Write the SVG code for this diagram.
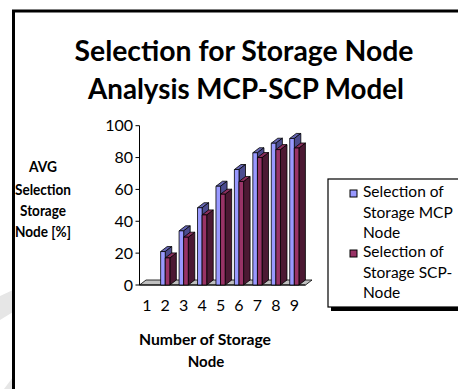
<svg xmlns="http://www.w3.org/2000/svg" width="458" height="389" viewBox="0 0 458 389">
  <style>
    .ttl { font-family: Lato, "Liberation Sans", sans-serif; font-weight: bold; font-size: 29px; fill: #000; text-anchor: middle; }
    .axt { font-family: Lato, "Liberation Sans", sans-serif; font-weight: bold; font-size: 15px; fill: #000; text-anchor: middle; }
    .tick { font-family: Lato, "Liberation Sans", sans-serif; font-size: 16px; fill: #000; }
    .leg { font-family: Lato, "Liberation Sans", sans-serif; font-size: 15.5px; fill: #000; }
    .edge { stroke: #000; stroke-width: 0.8; stroke-linejoin: round; }
    .bf { fill: #9999FF; }
    .bt { fill: #6666B3; }
    .bs { fill: #4C4C8F; }
    .mf { fill: #993366; }
    .mt { fill: #8A2E5C; }
    .ms { fill: #4C1933; }
  </style>

  <rect width="458" height="389" fill="#fff"/>

  <!-- faint background marks at the left margin -->
  <polygon points="0,296 13,290 13,312 0,320" fill="#e6e6e6"/>
  <polygon points="13,377 13,389 4,389" fill="#e6e6e6"/>

  <!-- chart frame -->
  <rect x="13.5" y="11" width="470" height="400" fill="#fff" stroke="#000" stroke-width="3"/>

  <g id="title">
    <text class="ttl" x="244" y="61" textLength="339" lengthAdjust="spacingAndGlyphs">Selection for Storage Node</text>
    <text class="ttl" x="246" y="99" textLength="316" lengthAdjust="spacingAndGlyphs">Analysis MCP-SCP Model</text>
  </g>

  <g id="y-axis-title">
    <text class="axt" x="43" y="172" textLength="28" lengthAdjust="spacingAndGlyphs">AVG</text>
    <text class="axt" x="43" y="194.5" textLength="56" lengthAdjust="spacingAndGlyphs">Selection</text>
    <text class="axt" x="43" y="216" textLength="46" lengthAdjust="spacingAndGlyphs">Storage</text>
    <text class="axt" x="43" y="237" textLength="56" lengthAdjust="spacingAndGlyphs">Node [%]</text>
  </g>

  <g id="floor">
    <polygon points="139.5,285 305.5,285 312,280 146,280" fill="#C0C0C0" class="edge"/>
  </g>

  <g id="y-axis">
    <line x1="139.5" y1="125.7" x2="139.5" y2="285" stroke="#000" stroke-width="1"/>
    <path d="M135.5 125.7H139.5M135.5 157.56H139.5M135.5 189.42H139.5M135.5 221.28H139.5M135.5 253.14H139.5M135.5 285H139.5" stroke="#000" stroke-width="1"/>
    <g class="tick" text-anchor="end">
      <text x="133" y="131.2">100</text>
      <text x="133" y="163.1">80</text>
      <text x="133" y="194.9">60</text>
      <text x="133" y="226.8">40</text>
      <text x="133" y="258.6">20</text>
      <text x="133" y="290.5">0</text>
    </g>
  </g>

  <g id="connectors">
    <line x1="139.5" y1="285" x2="305.5" y2="285" stroke="#000" stroke-width="1"/>
  </g>

  <g id="bars">
    <g id="cat2">
      <polygon class="bt edge" points="160.64,251.55 165.24,251.55 171.74,246.55 167.14,246.55"/>
      <polygon class="bs edge" points="165.24,251.55 165.24,285 171.74,280 171.74,246.55"/>
      <rect class="bf edge" x="160.64" y="251.55" width="4.6" height="33.45"/>
      <polygon class="ms edge" points="169.84,257.92 169.84,285 176.34,280 176.34,252.92"/>
      <polygon class="mt edge" points="165.24,257.92 169.84,257.92 176.34,252.92 171.74,252.92"/>
      <rect class="mf edge" x="165.24" y="257.92" width="4.6" height="27.08"/>
    </g>
    <g id="cat3">
      <polygon class="bt edge" points="179.08,230.84 183.68,230.84 190.18,225.84 185.58,225.84"/>
      <polygon class="bs edge" points="183.68,230.84 183.68,285 190.18,280 190.18,225.84"/>
      <rect class="bf edge" x="179.08" y="230.84" width="4.6" height="54.16"/>
      <polygon class="ms edge" points="188.28,237.21 188.28,285 194.78,280 194.78,232.21"/>
      <polygon class="mt edge" points="183.68,237.21 188.28,237.21 194.78,232.21 190.18,232.21"/>
      <rect class="mf edge" x="183.68" y="237.21" width="4.6" height="47.79"/>
    </g>
    <g id="cat4">
      <polygon class="bt edge" points="197.52,207.74 202.12,207.74 208.62,202.74 204.02,202.74"/>
      <polygon class="bs edge" points="202.12,207.74 202.12,285 208.62,280 208.62,202.74"/>
      <rect class="bf edge" x="197.52" y="207.74" width="4.6" height="77.26"/>
      <polygon class="ms edge" points="206.72,214.91 206.72,285 213.22,280 213.22,209.91"/>
      <polygon class="mt edge" points="202.12,214.91 206.72,214.91 213.22,209.91 208.62,209.91"/>
      <rect class="mf edge" x="202.12" y="214.91" width="4.6" height="70.09"/>
    </g>
    <g id="cat5">
      <polygon class="bt edge" points="215.96,186.23 220.56,186.23 227.06,181.23 222.46,181.23"/>
      <polygon class="bs edge" points="220.56,186.23 220.56,285 227.06,280 227.06,181.23"/>
      <rect class="bf edge" x="215.96" y="186.23" width="4.6" height="98.77"/>
      <polygon class="ms edge" points="225.16,194.2 225.16,285 231.66,280 231.66,189.2"/>
      <polygon class="mt edge" points="220.56,194.2 225.16,194.2 231.66,189.2 227.06,189.2"/>
      <rect class="mf edge" x="220.56" y="194.2" width="4.6" height="90.8"/>
    </g>
    <g id="cat6">
      <polygon class="bt edge" points="234.4,169.51 239,169.51 245.5,164.51 240.9,164.51"/>
      <polygon class="bs edge" points="239,169.51 239,285 245.5,280 245.5,164.51"/>
      <rect class="bf edge" x="234.4" y="169.51" width="4.6" height="115.49"/>
      <polygon class="ms edge" points="243.6,181.46 243.6,285 250.1,280 250.1,176.46"/>
      <polygon class="mt edge" points="239,181.46 243.6,181.46 250.1,176.46 245.5,176.46"/>
      <rect class="mf edge" x="239" y="181.46" width="4.6" height="103.54"/>
    </g>
    <g id="cat7">
      <polygon class="bt edge" points="252.84,152.78 257.44,152.78 263.94,147.78 259.34,147.78"/>
      <polygon class="bs edge" points="257.44,152.78 257.44,285 263.94,280 263.94,147.78"/>
      <rect class="bf edge" x="252.84" y="152.78" width="4.6" height="132.22"/>
      <polygon class="ms edge" points="262.04,157.56 262.04,285 268.54,280 268.54,152.56"/>
      <polygon class="mt edge" points="257.44,157.56 262.04,157.56 268.54,152.56 263.94,152.56"/>
      <rect class="mf edge" x="257.44" y="157.56" width="4.6" height="127.44"/>
    </g>
    <g id="cat8">
      <polygon class="bt edge" points="271.28,143.22 275.88,143.22 282.38,138.22 277.78,138.22"/>
      <polygon class="bs edge" points="275.88,143.22 275.88,285 282.38,280 282.38,138.22"/>
      <rect class="bf edge" x="271.28" y="143.22" width="4.6" height="141.78"/>
      <polygon class="ms edge" points="280.48,149.6 280.48,285 286.98,280 286.98,144.6"/>
      <polygon class="mt edge" points="275.88,149.6 280.48,149.6 286.98,144.6 282.38,144.6"/>
      <rect class="mf edge" x="275.88" y="149.6" width="4.6" height="135.4"/>
    </g>
    <g id="cat9">
      <polygon class="bt edge" points="289.72,138.44 294.32,138.44 300.82,133.44 296.22,133.44"/>
      <polygon class="bs edge" points="294.32,138.44 294.32,285 300.82,280 300.82,133.44"/>
      <rect class="bf edge" x="289.72" y="138.44" width="4.6" height="146.56"/>
      <polygon class="ms edge" points="298.92,148 298.92,285 305.42,280 305.42,143"/>
      <polygon class="mt edge" points="294.32,148 298.92,148 305.42,143 300.82,143"/>
      <rect class="mf edge" x="294.32" y="148" width="4.6" height="137"/>
    </g>
  </g>

  <g id="x-axis">
    <g class="tick" text-anchor="middle">
      <text x="146.8" y="311">1</text>
      <text x="165.24" y="311">2</text>
      <text x="183.68" y="311">3</text>
      <text x="202.12" y="311">4</text>
      <text x="220.56" y="311">5</text>
      <text x="239" y="311">6</text>
      <text x="257.44" y="311">7</text>
      <text x="275.88" y="311">8</text>
      <text x="294.32" y="311">9</text>
    </g>
  </g>

  <g id="x-axis-title">
    <text class="axt" x="205" y="345" font-size="16" textLength="132" lengthAdjust="spacingAndGlyphs">Number of Storage</text>
    <text class="axt" x="206" y="367" font-size="16">Node</text>
  </g>

  <g id="legend">
    <rect x="331" y="182" width="140" height="129" fill="#000"/>
    <rect x="328" y="179" width="140" height="128" fill="#fff" stroke="#000" stroke-width="1.2"/>
    <rect x="350" y="190" width="7" height="7" fill="#9999FF" stroke="#000" stroke-width="1"/>
    <text class="leg" x="363" y="197">Selection of</text>
    <text class="leg" x="363" y="217.5">Storage MCP</text>
    <text class="leg" x="363" y="238">Node</text>
    <rect x="350" y="250" width="7" height="7" fill="#993366" stroke="#000" stroke-width="1"/>
    <text class="leg" x="363" y="257">Selection of</text>
    <text class="leg" x="363" y="277.5">Storage SCP-</text>
    <text class="leg" x="363" y="298">Node</text>
  </g>
</svg>
